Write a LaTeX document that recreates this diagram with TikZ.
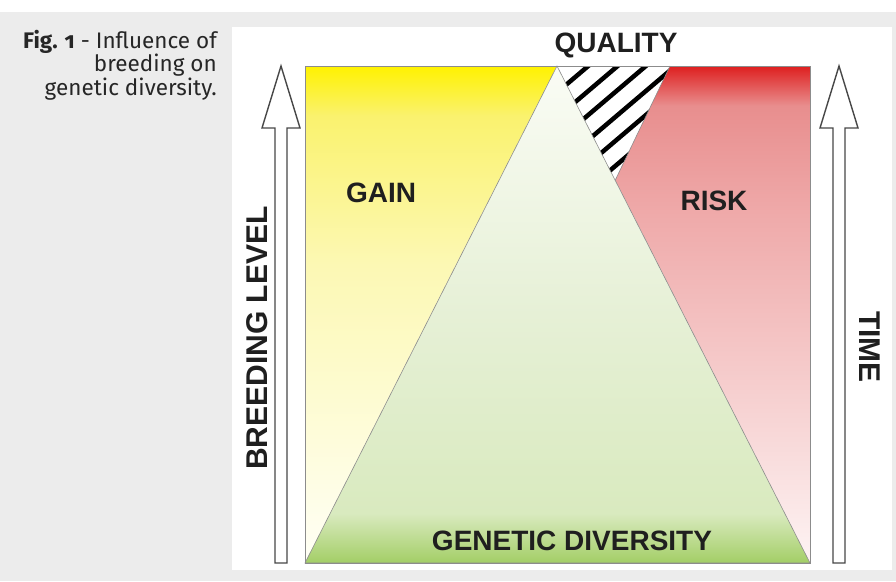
\documentclass[tikz,border=0pt]{standalone}
\usepackage{fontspec}
\setmainfont{Liberation Sans}
\newfontfamily\capfont[Numbers=OldStyle]{Fira Sans}
\usetikzlibrary{calc}

\definecolor{pagegray}{HTML}{ECECEC}
\definecolor{gaintop}{HTML}{FFF200}
\definecolor{gainhigh}{HTML}{FAF26E}
\definecolor{gainmid}{HTML}{FCF8B4}
\definecolor{gainlow}{HTML}{FFFFF6}
\definecolor{risktop}{HTML}{DE1F1F}
\definecolor{riskhigh}{HTML}{E88E8E}
\definecolor{riskmid}{HTML}{EFAAAA}
\definecolor{risklow}{HTML}{FDF3F3}
\definecolor{divtop}{HTML}{FAFCF5}
\definecolor{divmid}{HTML}{E6F0D6}
\definecolor{divhigh}{HTML}{D9EABF}
\definecolor{divlow}{HTML}{A3CE66}

\pgfdeclareverticalshading{gainshade}{100bp}{color(0bp)=(gainlow); color(25bp)=(gainlow);
  color(55bp)=(gainmid); color(70bp)=(gainhigh); color(75bp)=(gaintop); color(100bp)=(gaintop)}
\pgfdeclareverticalshading{riskshade}{100bp}{color(0bp)=(risklow); color(25bp)=(risklow);
  color(60bp)=(riskmid); color(71bp)=(riskhigh); color(75bp)=(risktop); color(100bp)=(risktop)}
\pgfdeclareverticalshading{divshade}{100bp}{color(0bp)=(divlow); color(25bp)=(divlow);
  color(30bp)=(divhigh); color(50bp)=(divmid); color(75bp)=(divtop); color(100bp)=(divtop)}

\begin{document}
\begin{tikzpicture}[x=1pt,y=-1pt,
    lbl/.style={font=\bfseries\fontsize{28}{30}\selectfont, text=black!88, inner sep=0pt},
    sidelbl/.style={lbl, font=\bfseries\fontsize{30}{32}\selectfont},
    edge/.style={draw=black!45, line width=0.6pt},
    hollow/.style={draw=black!72, line width=1.4pt, fill=white}]
    \useasboundingbox (0,0) rectangle (896,581);
    \fill[pagegray] (0,12) rectangle (896,581);
    \fill[white] (232,27) rectangle (892,570);

    \coordinate (tl) at (305,66);
    \coordinate (tr) at (810,66);
    \coordinate (bl) at (305,563);
    \coordinate (br) at (810,563);
    \coordinate (apex) at (557,66);
    \coordinate (qr) at (670,66);
    \coordinate (qb) at ($(apex)!0.23!(br)$);

    \shade[shading=gainshade] (tl) -- (apex) -- (bl) -- cycle;
    \shade[shading=riskshade] (qr) -- (tr) -- (br) -- (qb) -- cycle;
    \shade[shading=divshade] (apex) -- (br) -- (bl) -- cycle;
    \begin{scope}
        \clip (apex) -- (qr) -- (qb) -- cycle;
        \foreach \c in {566,591,615,640,664,689}
            \draw[line width=4.5pt] (480,{\c-408}) -- (720,{\c-612});
    \end{scope}
    \draw[edge] (apex) -- (br) -- (bl) -- cycle;
    \draw[edge] (qr) -- (qb);
    \draw[edge] (tl) rectangle (br);

    \foreach \ax in {281,839}
        \draw[hollow] ({\ax-6},563) -- ({\ax-6},128) -- ({\ax-19},128) -- (\ax,66)
            -- ({\ax+19},128) -- ({\ax+6},128) -- ({\ax+6},563) -- cycle;

    \node[lbl] (quality) at (616,45) {QUALITY};
    \node[lbl] (gain) at (381,193) {GAIN};
    \node[lbl] (risk) at (714,201) {RISK};
    \node[lbl] (diversity) at (572,541) {GENETIC DIVERSITY};
    \node[sidelbl, rotate=90] (level) at (257,338) {BREEDING LEVEL};
    \node[sidelbl, rotate=-90] (time) at (870,347) {TIME};

    \node[anchor=north east, align=right, inner sep=0pt, text=black!85,
        font=\capfont\fontsize{22.5}{20.5}\selectfont] (caption) at (217,30)
        {\textbf{Fig. 1} - Influence of\\breeding on\\genetic diversity.};
\end{tikzpicture}
\end{document}
